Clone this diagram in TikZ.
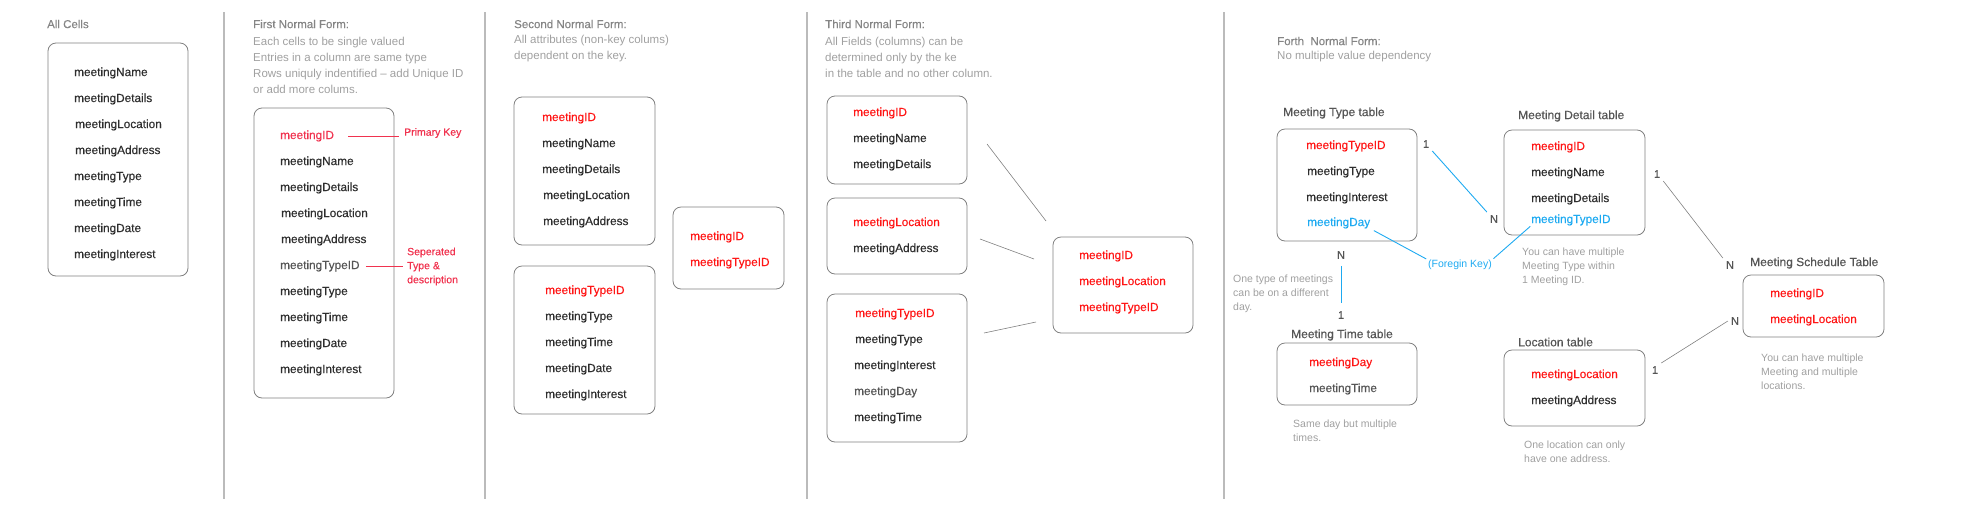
\documentclass[tikz,border=0pt]{standalone}
\usepackage{fontspec}
\setmainfont{Liberation Sans}
\newfontfamily\medfont[FakeBold=0.35]{Liberation Sans}
\definecolor{ink}{HTML}{2E2E2E}
\definecolor{softink}{HTML}{555555}
\definecolor{keyred}{HTML}{FF1616}
\definecolor{pkred}{HTML}{F0334F}
\definecolor{fkblue}{HTML}{1EAAF1}
\definecolor{headgray}{HTML}{858585}
\definecolor{descgray}{HTML}{A0A0A0}
\definecolor{boxgray}{HTML}{808080}
\definecolor{sepgray}{HTML}{BBBBBB}
\begin{document}
\begin{tikzpicture}[x=1pt, y=-1pt,
txt/.style={anchor=west, inner sep=0pt},
cell/.style={txt, yshift=-2pt, text=ink, font=\medfont\fontsize{11.8}{14}\selectfont},
softcell/.style={cell, text=softink},
keycell/.style={cell, text=keyred},
fkcell/.style={cell, text=fkblue},
tbl/.style={draw=boxgray, line width=0.8pt, rounded corners=8pt, inner sep=0pt},
head/.style={txt, text=headgray, font=\medfont\fontsize{11.5}{14}\selectfont},
desc/.style={txt, text=descgray, align=left, font=\fontsize{11.5}{16}\selectfont},
hint/.style={txt, text=descgray, align=left, font=\fontsize{10.5}{14}\selectfont},
title/.style={txt, yshift=-1pt, text=softink, font=\medfont\fontsize{12}{14}\selectfont},
card/.style={inner sep=3pt, text=softink, font=\medfont\fontsize{11}{13}\selectfont}]
\tikzstyle{sepline}=[draw=sepgray, line width=1.4pt]
\tikzstyle{wire}=[draw=boxgray, line width=0.6pt]
\tikzstyle{fkwire}=[draw=fkblue, line width=0.9pt]
\tikzstyle{pkwire}=[draw=pkred, line width=0.9pt]
 \def\fy{26}
\useasboundingbox (0,0) rectangle (1962,512);
%separators
\draw[sepline] (224,12) -- (224,499);
\draw[sepline] (485,12) -- (485,499);
\draw[sepline] (807,12) -- (807,499);
\draw[sepline] (1224,12) -- (1224,499);
%All Cells
\node[head] (allt) at (47,24) {All Cells};
\node[tbl, minimum width=140, minimum height=233] (allbox) at (118,159.5) {};
\node[cell] (a1) at (74,71)        {meetingName};
\node[cell] (a2) at (74,71+1*\fy) {meetingDetails};
\node[cell] (a3) at (75,71+2*\fy) {meetingLocation};
\node[cell] (a4) at (75,71+3*\fy) {meetingAddress};
\node[cell] (a5) at (74,71+4*\fy) {meetingType};
\node[cell] (a6) at (74,71+5*\fy) {meetingTime};
\node[cell] (a7) at (74,71+6*\fy) {meetingDate};
\node[cell] (a8) at (74,71+7*\fy) {meetingInterest};
%First Normal Form
\node[head] (f1t) at (253,24) {First Normal Form:};
\node[desc] (f1d) at (253,65) {Each cells to be single valued\\Entries in a column are same type\\Rows uniquly indentified -- add Unique ID\\or add more colums.};
\node[tbl, minimum width=140, minimum height=290] (f1box) at (324,253) {};
\node[cell, text=pkred] (f1id) at (280,134) {meetingID};
\node[cell] (f1name) at (280,134+1*\fy) {meetingName};
\node[cell] (f1det)  at (280,134+2*\fy) {meetingDetails};
\node[cell] (f1loc)  at (281,134+3*\fy) {meetingLocation};
\node[cell] (f1addr) at (281,134+4*\fy) {meetingAddress};
\node[softcell] (f1tid) at (280,134+5*\fy) {meetingTypeID};
\node[cell] (f1type) at (280,134+6*\fy) {meetingType};
\node[cell] (f1time) at (280,134+7*\fy) {meetingTime};
\node[cell] (f1date) at (280,134+8*\fy) {meetingDate};
\node[cell] (f1int)  at (280,134+9*\fy) {meetingInterest};
\node[txt, text=pkred, font=\medfont\fontsize{10.5}{14}\selectfont] (pk) at (404,133) {Primary Key};
\node[txt, text=pkred, align=left, font=\medfont\fontsize{10.5}{14}\selectfont] (sep) at (407,266.5) {Seperated\\Type \&\\description};
\draw[pkwire, shorten <=14pt, shorten >=5pt] (f1id.east) -- (f1id.east -| pk.west);
\draw[pkwire, shorten <=6pt, shorten >=4pt] (f1tid.east) -- (f1tid.east -| sep.west);
%Second Normal Form
\node[head] (f2t) at (514,24) {Second Normal Form:};
\node[desc] (f2d) at (514,49) {All attributes (non-key colums)\\dependent on the key.};
\node[tbl, minimum width=141, minimum height=148] (f2a) at (584.5,171) {};
\node[keycell] (f2id)  at (542,116)        {meetingID};
\node[cell] (f2name)   at (542,116+1*\fy) {meetingName};
\node[cell] (f2det)    at (542,116+2*\fy) {meetingDetails};
\node[cell] (f2loc)    at (543,116+3*\fy) {meetingLocation};
\node[cell] (f2addr)   at (543,116+4*\fy) {meetingAddress};
\node[tbl, minimum width=141, minimum height=148] (f2b) at (584.5,340) {};
\node[keycell] (f2tid) at (545,289)        {meetingTypeID};
\node[cell] (f2type)   at (545,289+1*\fy) {meetingType};
\node[cell] (f2time)   at (545,289+2*\fy) {meetingTime};
\node[cell] (f2date)   at (545,289+3*\fy) {meetingDate};
\node[cell] (f2int)    at (545,289+4*\fy) {meetingInterest};
\node[tbl, minimum width=111, minimum height=82] (f2c) at (728.5,248) {};
\node[keycell] (f2cid)  at (690,235)        {meetingID};
\node[keycell] (f2ctid) at (690,235+1*\fy) {meetingTypeID};
%Third Normal Form
\node[head] (f3t) at (825,24) {Third Normal Form:};
\node[desc] (f3d) at (825,57) {All Fields (columns) can be\\determined only by the ke\\in the table and no other column.};
\node[tbl, minimum width=140, minimum height=88] (f3a) at (897,140) {};
\node[keycell] (f3id) at (853,111)        {meetingID};
\node[cell] (f3name)  at (853,111+1*\fy) {meetingName};
\node[cell] (f3det)   at (853,111+2*\fy) {meetingDetails};
\node[tbl, minimum width=140, minimum height=76] (f3b) at (897,236) {};
\node[keycell] (f3loc) at (853,221)        {meetingLocation};
\node[cell] (f3addr)   at (853,221+1*\fy) {meetingAddress};
\node[tbl, minimum width=140, minimum height=148] (f3c) at (897,368) {};
\node[keycell] (f3tid) at (855,312)        {meetingTypeID};
\node[cell] (f3type)   at (855,312+1*\fy) {meetingType};
\node[cell] (f3int)    at (854,312+2*\fy) {meetingInterest};
\node[softcell] (f3day) at (854,312+3*\fy) {meetingDay};
\node[cell] (f3time)   at (854,312+4*\fy) {meetingTime};
\node[tbl, minimum width=140, minimum height=96] (f3d4) at (1123,285) {};
\node[keycell] (f3kid)  at (1079,254)        {meetingID};
\node[keycell] (f3kloc) at (1079,254+1*\fy) {meetingLocation};
\node[keycell] (f3ktid) at (1079,254+2*\fy) {meetingTypeID};
\coordinate (w1a) at (987,144);  \coordinate (w1b) at (1046,221);
\coordinate (w2a) at (980,239);  \coordinate (w2b) at (1034,259);
\coordinate (w3a) at (984,333);  \coordinate (w3b) at (1036,322);
\draw[wire] (w1a) -- (w1b);
\draw[wire] (w2a) -- (w2b);
\draw[wire] (w3a) -- (w3b);
%Forth Normal Form
\node[head] (f4t) at (1277,41) {Forth\ \ Normal Form:};
\node[desc] (f4d) at (1277,57) {No multiple value dependency};
% meeting type
\node[title] (mtt) at (1283,112) {Meeting Type table};
\node[tbl, minimum width=140, minimum height=112] (mtbox) at (1347,185) {};
\node[keycell] (mttid) at (1306,144) {meetingTypeID};
\node[cell] (mttype)   at (1307,170) {meetingType};
\node[cell] (mtint)    at (1306,196) {meetingInterest};
\node[fkcell] (mtday)  at (1307,221) {meetingDay};
% meeting time
\node[title] (tmt) at (1291,334) {Meeting Time table};
\node[tbl, minimum width=140, minimum height=62] (tmbox) at (1347,374) {};
\node[keycell] (tmday) at (1309,361) {meetingDay};
\node[softcell] (tmtime) at (1309,387) {meetingTime};
\node[hint] (tmh) at (1293,431) {Same day but multiple\\times.};
\node[hint] (mth) at (1233,294) {One type of meetings\\can be on a different\\day.};
% meeting detail
\node[title] (mdt) at (1518,115) {Meeting Detail table};
\node[tbl, minimum width=141, minimum height=105] (mdbox) at (1574.5,182.5) {};
\node[keycell] (mdid) at (1531,145) {meetingID};
\node[cell] (mdname)  at (1531,171) {meetingName};
\node[cell] (mddet)   at (1531,197) {meetingDetails};
\node[fkcell] (mdtid) at (1531,218) {meetingTypeID};
\node[hint] (mdh) at (1522,267) {You can have multiple\\Meeting Type within\\1 Meeting ID.};
% location
\node[title] (ltt) at (1518,341) {Location table};
\node[tbl, minimum width=141, minimum height=76] (ltbox) at (1574.5,388) {};
\node[keycell] (ltloc) at (1531,373) {meetingLocation};
\node[cell] (ltaddr)   at (1531,399) {meetingAddress};
\node[hint] (lth) at (1524,452) {One location can only\\have one address.};
% meeting schedule
\node[title] (mst) at (1750,262) {Meeting Schedule Table};
\node[tbl, minimum width=141, minimum height=62] (msbox) at (1813.5,306) {};
\node[keycell] (msid)  at (1770,292) {meetingID};
\node[keycell] (msloc) at (1770,318) {meetingLocation};
\node[hint] (msh) at (1761,372) {You can have multiple\\Meeting and multiple\\locations.};
% cardinalities
\node[card] (c1) at (1426,144) {1};
\node[card] (c2) at (1494,219) {N};
\node[card] (c3) at (1341,255) {N};
\node[card] (c4) at (1341,315) {1};
\node[card] (c5) at (1657,174) {1};
\node[card] (c6) at (1730,265) {N};
\node[card] (c7) at (1735,321) {N};
\node[card] (c8) at (1655,370) {1};
\node[txt, text=fkblue, font=\fontsize{10.5}{14}\selectfont, anchor=center] (fk) at (1460,265) {(Foregin Key)};
\draw[fkwire] (c1.south east) -- (c2.north west);
\draw[fkwire, shorten <=4pt, shorten >=5pt] (c3.south) -- (c4.north);
\draw[fkwire, shorten <=4pt, shorten >=2pt] (mtday.south east) -- (fk.north west);
\draw[fkwire, shorten <=2pt, shorten >=1pt] (fk.north east) -- (mdtid.south west);
\draw[wire] (c5.south east) -- (c6.north west);
\draw[wire] (c7.west) -- (c8.north east);
\end{tikzpicture}
\end{document}
